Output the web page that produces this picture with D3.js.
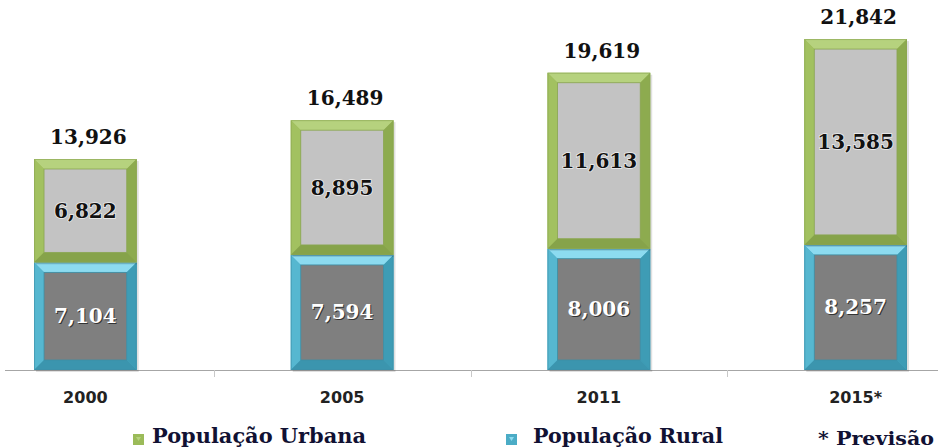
<!DOCTYPE html>
<html>
<head>
<meta charset="utf-8">
<script src="https://cdn.jsdelivr.net/npm/d3@7"></script>
<style>
  body { margin: 0; background: #fff; }
  svg { display: block; }
</style>
</head>
<body>
<svg id="chart" width="938" height="448"></svg>
<script>
// chart data
var years = ["2000", "2005", "2011", "2015*"];
var rural = [7104, 7594, 8006, 8257];
var urban = [6822, 8895, 11613, 13585];
var totals = [13926, 16489, 19619, 21842];
var ruralLabels = ["7,104", "7,594", "8,006", "8,257"];
var urbanLabels = ["6,822", "8,895", "11,613", "13,585"];
var totalLabels = ["13,926", "16,489", "19,619", "21,842"];

var svg = d3.select("#chart");
var base = 370;
var bev = 10; // bevel width

var x = d3.scaleBand()
    .domain(years)
    .range([-43, 984])
    .padding(0);

var y = d3.scaleLinear()
    .domain([0, 24420])
    .range([base, 0]);

var bw = x.bandwidth() * 0.4;

// colours for the two series (frame, light top, sides, bottom, inner fill)
var greenC = {main: "#9bbb59", top: "#b6d27e", left: "#a2c160", right: "#8dab4f", bottom: "#86a34a", inner: "#c3c3c3", edge: "#8aa552"};
var blueC = {main: "#4bacc6", top: "#8cdbf0", left: "#56b7d0", right: "#3e9cb5", bottom: "#3b95ae", inner: "#7f7f7f", edge: "#3d8fa6"};

function bevelBar(g, x0, y0, w, h, c) {
    var x1 = x0 + w, y1 = y0 + h;
    // faint shadow
    g.append("rect")
        .attr("x", x0 + 2).attr("y", y0 + 2)
        .attr("width", w).attr("height", h)
        .attr("fill", "#000").attr("opacity", 0.12);
    g.append("rect")
        .attr("x", x0).attr("y", y0)
        .attr("width", w).attr("height", h)
        .attr("fill", c.main);
    var line = d3.line();
    // top
    g.append("path").attr("fill", c.top)
        .attr("d", line([[x0, y0], [x1, y0], [x1 - bev, y0 + bev], [x0 + bev, y0 + bev]]) + "Z");
    // left
    g.append("path").attr("fill", c.left)
        .attr("d", line([[x0, y0], [x0 + bev, y0 + bev], [x0 + bev, y1 - bev], [x0, y1]]) + "Z");
    // right
    g.append("path").attr("fill", c.right)
        .attr("d", line([[x1, y0], [x1, y1], [x1 - bev, y1 - bev], [x1 - bev, y0 + bev]]) + "Z");
    // bottom
    g.append("path").attr("fill", c.bottom)
        .attr("d", line([[x0, y1], [x0 + bev, y1 - bev], [x1 - bev, y1 - bev], [x1, y1]]) + "Z");
    // inner face
    g.append("rect")
        .attr("x", x0 + bev).attr("y", y0 + bev)
        .attr("width", w - 2 * bev).attr("height", h - 2 * bev)
        .attr("fill", c.inner)
        .attr("stroke", c.edge).attr("stroke-width", 0.8);
    // thin outline
    g.append("rect")
        .attr("x", x0 + 0.5).attr("y", y0 + 0.5)
        .attr("width", w - 1).attr("height", h - 1)
        .attr("fill", "none")
        .attr("stroke", c.edge).attr("stroke-width", 1).attr("opacity", 0.6);
}

// axis line
svg.append("line")
    .attr("x1", 5).attr("x2", 938)
    .attr("y1", base + 0.5).attr("y2", base + 0.5)
    .attr("stroke", "#a6a6a6").attr("stroke-width", 1.2);

// ticks between categories
years.slice(1).forEach(function(d) {
    svg.append("line")
        .attr("x1", Math.round(x(d)) + 0.5).attr("x2", Math.round(x(d)) + 0.5)
        .attr("y1", base).attr("y2", base + 7)
        .attr("stroke", "#c8c8c8").attr("stroke-width", 1);
});

var bars = svg.append("g");

years.forEach(function(d, i) {
    var cx = x(d) + x.bandwidth() / 2;
    var x0 = cx - bw / 2;
    var g = bars.append("g");
    // rural (bottom)
    bevelBar(g, x0, y(rural[i]), bw, base - y(rural[i]), blueC);
    // urban (top)
    bevelBar(g, x0, y(totals[i]), bw, y(rural[i]) - y(totals[i]), greenC);
});

var serif = "'DejaVu Serif', 'Liberation Serif', serif";

// rural labels (white with dark shadow)
years.forEach(function(d, i) {
    var cx = x(d) + x.bandwidth() / 2;
    var ym = (y(rural[i]) + base) / 2;
    svg.append("text")
        .attr("x", cx + 1).attr("y", ym + 8)
        .attr("text-anchor", "middle")
        .attr("font-family", serif).attr("font-weight", "bold").attr("font-size", 20)
        .attr("fill", "#333")
        .text(ruralLabels[i]);
    svg.append("text")
        .attr("x", cx).attr("y", ym + 7)
        .attr("text-anchor", "middle")
        .attr("font-family", serif).attr("font-weight", "bold").attr("font-size", 20)
        .attr("fill", "#fff")
        .text(ruralLabels[i]);
});

// urban labels (black)
years.forEach(function(d, i) {
    var cx = x(d) + x.bandwidth() / 2;
    var ym = (y(totals[i]) + y(rural[i])) / 2;
    svg.append("text")
        .attr("x", cx).attr("y", ym + 7)
        .attr("text-anchor", "middle")
        .attr("font-family", serif).attr("font-weight", "bold").attr("font-size", 20)
        .attr("fill", "#111")
        .attr("stroke", "#eee").attr("stroke-width", 1.5).attr("paint-order", "stroke")
        .text(urbanLabels[i]);
});

// totals above bars
years.forEach(function(d, i) {
    var cx = x(d) + x.bandwidth() / 2;
    svg.append("text")
        .attr("x", cx + 3).attr("y", y(totals[i]) - 15)
        .attr("text-anchor", "middle")
        .attr("font-family", serif).attr("font-weight", "bold").attr("font-size", 20)
        .attr("fill", "#111")
        .text(totalLabels[i]);
});

// category labels
years.forEach(function(d) {
    svg.append("text")
        .attr("x", x(d) + x.bandwidth() / 2).attr("y", 403)
        .attr("text-anchor", "middle")
        .attr("font-family", "'DejaVu Sans', sans-serif").attr("font-weight", "bold").attr("font-size", 16)
        .attr("fill", "#222")
        .text(d);
});

// legend
var legend = [
    {label: "População Urbana", c: greenC, mx: 133, tx: 152, len: 214},
    {label: "População Rural", c: blueC, mx: 506, tx: 533, len: 190}
];
legend.forEach(function(l) {
    svg.append("rect")
        .attr("x", l.mx).attr("y", 434)
        .attr("width", 11).attr("height", 11)
        .attr("fill", l.c.main);
    svg.append("path")
        .attr("d", d3.line()([[l.mx + 3, 437], [l.mx + 8, 437], [l.mx + 5.5, 441]]) + "Z")
        .attr("fill", l.c.top);
    svg.append("text")
        .attr("x", l.tx).attr("y", 443)
        .attr("font-family", serif).attr("font-weight", "bold").attr("font-size", 20)
        .attr("textLength", l.len).attr("lengthAdjust", "spacingAndGlyphs")
        .attr("fill", "#111133")
        .text(l.label);
});
svg.append("text")
    .attr("x", 818).attr("y", 445)
    .attr("font-family", serif).attr("font-weight", "bold").attr("font-size", 19)
    .attr("textLength", 116).attr("lengthAdjust", "spacingAndGlyphs")
    .attr("fill", "#111133")
    .text("* Previsão");
</script>
</body>
</html>
